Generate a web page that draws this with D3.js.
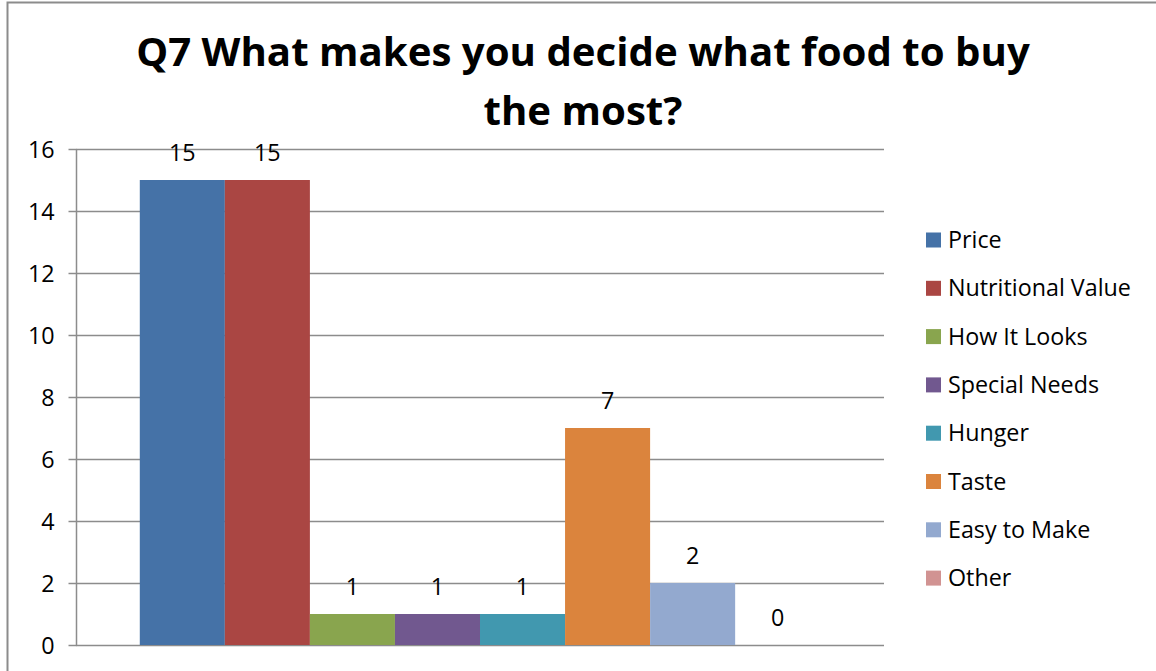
<!DOCTYPE html>
<html>
<head>
<meta charset="utf-8">
<script src="https://cdn.jsdelivr.net/npm/d3@7"></script>
<style>
  body { margin: 0; background: #fff; }
  svg { display: block; }
  text { font-family: "Open Sans", "Noto Sans", sans-serif; fill: #000; }
</style>
</head>
<body>
<svg id="chart" width="1156" height="671"></svg>
<script>
const titleLines = ["Q7 What makes you decide what food to buy", "the most?"];
const categories = ["Price", "Nutritional Value", "How It Looks", "Special Needs", "Hunger", "Taste", "Easy to Make", "Other"];
const values = [15, 15, 1, 1, 1, 7, 2, 0];
const colors = ["#4572a7", "#aa4643", "#89a54e", "#71588f", "#4198af", "#db843d", "#93a9cf", "#d19392"];
const yTicks = [0, 2, 4, 6, 8, 10, 12, 14, 16];

const svg = d3.select("#chart");
const plot = {left: 76, right: 884, top: 149, bottom: 645};

// chart frame
svg.append("rect")
  .attr("x", 7.5).attr("y", 2.5)
  .attr("width", 1200).attr("height", 700)
  .attr("fill", "#fff")
  .attr("stroke", "#8c8c8c")
  .attr("stroke-width", 2);

// fit a text element to a target width
function fit(sel, width) {
  const w = sel.node().getComputedTextLength();
  const fs = parseFloat(sel.attr("font-size"));
  sel.attr("font-size", fs * width / w);
  return fs * width / w;
}

// title
const t1 = svg.append("text")
  .attr("x", 583).attr("y", 66)
  .attr("text-anchor", "middle")
  .attr("font-weight", "bold")
  .attr("font-size", 40)
  .text(titleLines[0]);
const titleSize = fit(t1, 894);
svg.append("text")
  .attr("x", 583).attr("y", 125)
  .attr("text-anchor", "middle")
  .attr("font-weight", "bold")
  .attr("font-size", titleSize)
  .text(titleLines[1]);

// measure body font size from the legend's widest label
const probe = svg.append("text").attr("font-size", 20).text("Nutritional Value");
const bodySize = fit(probe, 183);
probe.remove();

const y = d3.scaleLinear().domain([0, 16]).range([plot.bottom, plot.top]);

// one category, bars placed inside with 150% gap width
const groupW = (plot.right - plot.left);
const barW = groupW / (categories.length + 1.5);
const x = d3.scaleBand()
  .domain(categories)
  .range([plot.left + barW * 0.75, plot.right - barW * 0.75])
  .padding(0);

// gridlines
svg.append("g")
  .selectAll("line")
  .data(yTicks)
  .join("line")
  .attr("x1", plot.left).attr("x2", plot.right)
  .attr("y1", d => Math.round(y(d)) + 0.5)
  .attr("y2", d => Math.round(y(d)) + 0.5)
  .attr("stroke", "#8c8c8c")
  .attr("stroke-width", 1.5);

// bars
svg.append("g")
  .selectAll("rect")
  .data(values)
  .join("rect")
  .attr("x", (d, i) => x(categories[i]))
  .attr("width", x.bandwidth())
  .attr("y", d => y(d))
  .attr("height", d => plot.bottom - y(d))
  .attr("fill", (d, i) => colors[i]);

// data labels
svg.append("g")
  .selectAll("text")
  .data(values)
  .join("text")
  .attr("x", (d, i) => x(categories[i]) + x.bandwidth() / 2)
  .attr("y", d => y(d) - 19)
  .attr("text-anchor", "middle")
  .attr("font-size", bodySize)
  .text(d => d);

// y axis
const yAxis = d3.axisLeft(y).tickValues(yTicks).tickSize(8).tickPadding(14);
const ya = svg.append("g")
  .attr("transform", `translate(${plot.left + 0.5},0)`)
  .call(yAxis);
ya.select(".domain").attr("stroke", "#8c8c8c").attr("stroke-width", 1.5)
  .attr("d", `M0,${plot.top}V${plot.bottom}`);
ya.selectAll(".tick line").attr("stroke", "#8c8c8c").attr("stroke-width", 1.5);
ya.selectAll(".tick text")
  .attr("font-family", "\"Open Sans\", sans-serif")
  .attr("font-size", bodySize)
  .attr("fill", "#000")
  .attr("dy", "0.35em");

// legend
const legend = svg.append("g")
  .selectAll("g")
  .data(categories)
  .join("g")
  .attr("transform", (d, i) => `translate(926,${240 + i * 48.3})`);
legend.append("rect")
  .attr("x", 0).attr("y", -7.5)
  .attr("width", 15).attr("height", 15)
  .attr("fill", (d, i) => colors[i]);
legend.append("text")
  .attr("x", 22).attr("y", 0)
  .attr("dy", "0.35em")
  .attr("font-size", bodySize)
  .text(d => d);
</script>
</body>
</html>
